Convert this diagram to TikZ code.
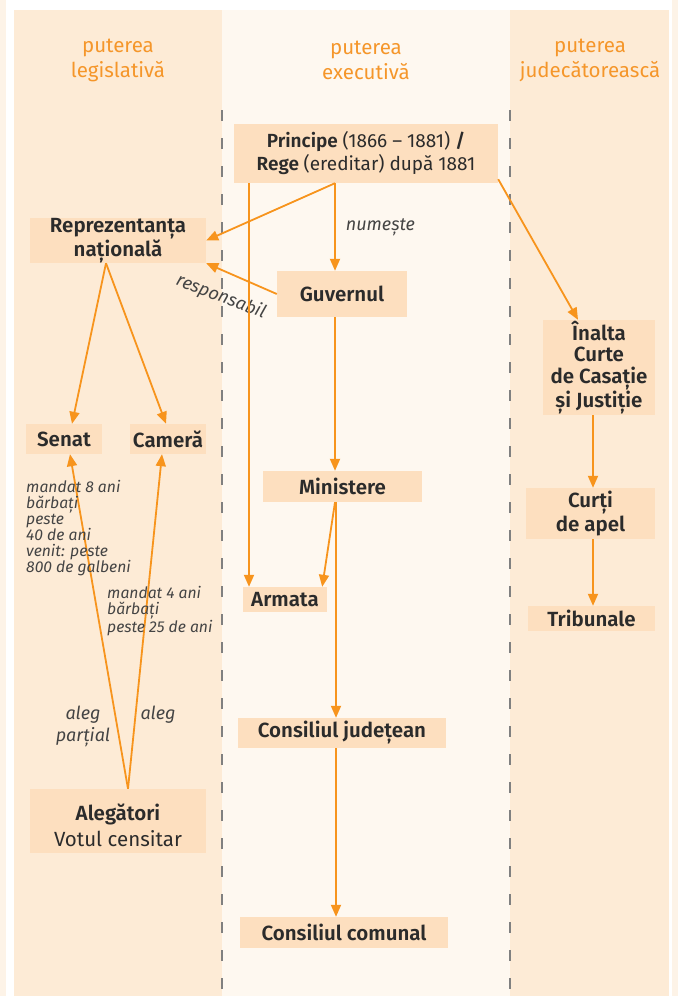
\documentclass[tikz,border=0pt]{standalone}
\usepackage{fontspec}
\setmainfont{Fira Sans}[BoldFont={Fira Sans SemiBold}]
\usepackage{xcolor}
\usetikzlibrary{arrows.meta}
\definecolor{coledge}{HTML}{FDF3E7}
\definecolor{colside}{HTML}{FDEBD6}
\definecolor{colmid}{HTML}{FEF8F0}
\definecolor{colbox}{HTML}{FDDFBF}
\definecolor{colline}{HTML}{F7941D}
\definecolor{colhead}{HTML}{F5962A}
\definecolor{colink}{HTML}{2B2B2B}
\definecolor{colnote}{HTML}{444444}

\begin{document}
\begin{tikzpicture}[x=1pt,y=-1pt,
  nodebox/.style={fill=colbox, text=colink, inner sep=0pt, align=center,
    font=\fontsize{20.5}{21.5}\selectfont\bfseries},
  arr/.style={colline, line width=1.8pt, -{Triangle[length=12pt,width=10pt]}},
  notetext/.style={text=colnote, inner sep=0pt, align=left,
    font=\fontsize{15.7}{16}\selectfont\itshape},
  headtext/.style={text=colhead, align=center, font=\fontsize{20.5}{25}\selectfont}]
\useasboundingbox (0,0) rectangle (678,996);
% background and columns
\fill[coledge] (0,0) rectangle (678,996);
\fill[white] (6,0) rectangle (672,996);
\fill[colside] (14,10) rectangle (222,996);
\fill[colmid] (222,10) rectangle (510,996);
\fill[colside] (510,10) rectangle (669,996);
\draw[gray, line width=2pt, dash pattern=on 11pt off 17pt] (222,110) -- (222,996);
\draw[gray, line width=2pt, dash pattern=on 11pt off 17pt] (510,110) -- (510,996);
\node[headtext] (hleg) at (118,60) {puterea\\legislativă};
\node[headtext] (hexe) at (366,60) {puterea\\executivă};
\node[headtext] (hjud) at (590,60) {puterea\\judecătorească};
% boxes
\node[nodebox, minimum width=264, minimum height=59, font=\fontsize{19}{23}\selectfont\bfseries] (prince) at (366,153.5)
  {Principe \mdseries(1866 – 1881) \bfseries/\\Rege \mdseries(ereditar) după 1881};
\node[nodebox, minimum width=176, minimum height=45] (repr) at (118,240.5) {Reprezentanța\\națională};
\node[nodebox, minimum width=130, minimum height=46] (guv) at (342,294) {Guvernul};
\node[nodebox, minimum width=76, minimum height=30] (senat) at (64,439) {Senat};
\node[nodebox, minimum width=76, minimum height=30] (camera) at (168,439) {Cameră};
\node[nodebox, minimum width=159, minimum height=31] (min) at (342.5,486.5) {Ministere};
\node[nodebox, minimum width=84, minimum height=25] (armata) at (285,599.5) {Armata};
\node[nodebox, minimum width=208, minimum height=30] (cjud) at (342,733) {Consiliul județean};
\node[nodebox, minimum width=208, minimum height=31] (ccom) at (344,932.5) {Consiliul comunal};
\node[nodebox, minimum width=176, minimum height=64] (aleg) at (118,821)
  {\rule{0pt}{25pt}Alegători\\[5pt]\mdseries\fontsize{20.5}{22}\selectfont Votul censitar};
\node[nodebox, minimum width=112, minimum height=95] (icc) at (599,367.5) {Înalta\\Curte\\de Casație\\și Justiție};
\node[nodebox, minimum width=129, minimum height=51] (curti) at (590.5,513.5) {Curți\\de apel};
\node[nodebox, minimum width=127, minimum height=25] (trib) at (591.5,618.5) {Tribunale};
% vertical lines
\coordinate (trunk) at (335,0);
\coordinate (armline) at (249,0);
\coordinate (jline) at (593,0);
% connectors
\draw[arr] (prince.south -| trunk) -- (repr.east);
\draw[arr] (prince.south -| trunk) -- node[right=10pt, notetext, font=\fontsize{18}{18}\selectfont\itshape] {numește} (guv.north -| trunk);
\draw[arr] (guv.west) -- (repr.south east);
\node[notetext, font=\fontsize{18}{18}\selectfont\itshape, rotate=-21] (resp) at (221,297) {responsabil};
\draw[arr] (prince.south -| armline) -- (armata.north -| armline);
\draw[arr] (guv.south -| trunk) -- (min.north -| trunk);
\draw[arr] (min.south -| trunk) -- ([xshift=-5pt]armata.north east);
\draw[arr] ([xshift=1pt]min.south -| trunk) -- ([xshift=1pt]cjud.north -| trunk);
\draw[arr] ([xshift=1pt]cjud.south -| trunk) -- ([xshift=1pt]ccom.north -| trunk);
\draw[arr] ([yshift=4pt]prince.south east) -- ([xshift=-21pt]icc.north);
\draw[arr] (icc.south -| jline) -- (curti.north -| jline);
\draw[arr] (curti.south -| jline) -- (trib.north -| jline);
\draw[arr] ([xshift=-12pt]repr.south) -- ([xshift=8pt]senat.north);
\draw[arr] ([xshift=-12pt]repr.south) -- ([xshift=-2pt]camera.north);
\draw[arr] ([xshift=10pt]aleg.north) -- ([xshift=6pt]senat.south);
\draw[arr] ([xshift=10pt]aleg.north) -- ([xshift=-6pt]camera.south);
% notes
\node[notetext, anchor=north west] (nsenat) at (26,480)
  {mandat 8 ani\\bărbați\\peste\\40 de ani\\venit: peste\\800 de galbeni};
\node[notetext, anchor=north west] (ncamera) at (107,586)
  {mandat 4 ani\\bărbați\\peste 25 de ani};
\node[notetext, align=center, font=\fontsize{18}{22}\selectfont\itshape] (nparc) at (83,726) {aleg\\parțial};
\node[notetext, font=\fontsize{18}{22}\selectfont\itshape] (naleg) at (158,715) {aleg};
\end{tikzpicture}
\end{document}
